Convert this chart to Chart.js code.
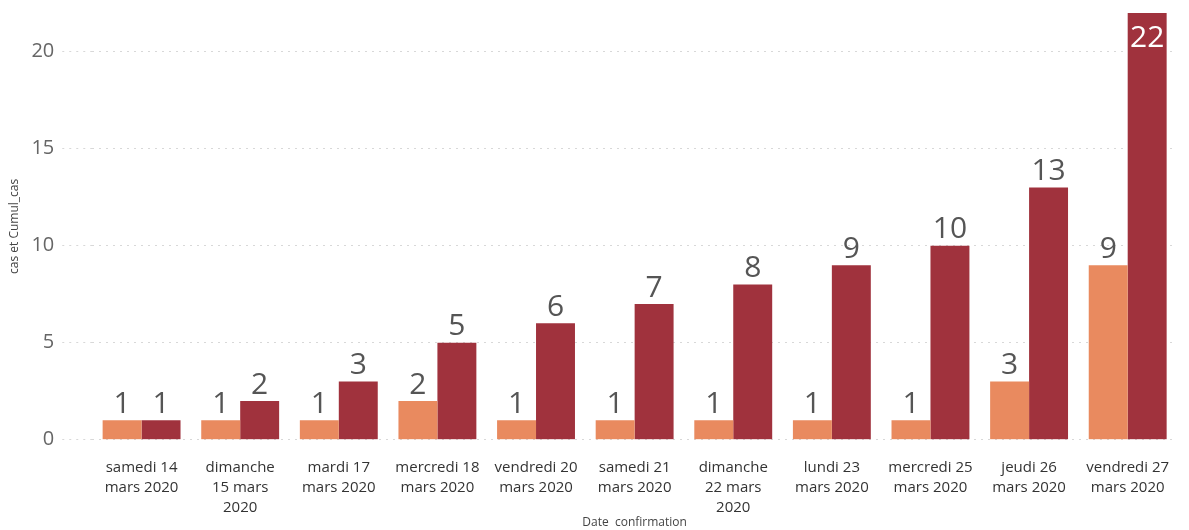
<!DOCTYPE html>
<html>
<head>
<meta charset="utf-8">
<script src="https://cdn.jsdelivr.net/npm/chart.js@4"></script>
<style>
  body { margin: 0; background: #fff; }
  #wrap { width: 1189px; height: 530px; }
</style>
</head>
<body>
<div id="wrap"><canvas id="myChart"></canvas></div>
<script>
var labels = [
    ["samedi 14", "mars 2020"],
    ["dimanche", "15 mars", "2020"],
    ["mardi 17", "mars 2020"],
    ["mercredi 18", "mars 2020"],
    ["vendredi 20", "mars 2020"],
    ["samedi 21", "mars 2020"],
    ["dimanche", "22 mars", "2020"],
    ["lundi 23", "mars 2020"],
    ["mercredi 25", "mars 2020"],
    ["jeudi 26", "mars 2020"],
    ["vendredi 27", "mars 2020"]
];
var cas = [1, 1, 1, 2, 1, 1, 1, 1, 1, 3, 9];
var cumulCas = [1, 2, 3, 5, 6, 7, 8, 9, 10, 13, 22];
var yTicks = [0, 5, 10, 15, 20];

// value labels above each bar (inside if no room)
var valueLabels = {
    id: 'valueLabels',
    afterDatasetsDraw: function (chart) {
        var ctx = chart.ctx;
        ctx.save();
        ctx.font = '30px "Open Sans", sans-serif';
        ctx.textAlign = 'center';
        chart.data.datasets.forEach(function (ds, i) {
            chart.getDatasetMeta(i).data.forEach(function (bar, j) {
                var txt = String(ds.data[j]);
                if (bar.y - 40 < chart.chartArea.top) {
                    ctx.fillStyle = '#ffffff';
                    ctx.textBaseline = 'top';
                    ctx.fillText(txt, bar.x, bar.y + 10);
                } else {
                    ctx.fillStyle = '#555555';
                    ctx.textBaseline = 'bottom';
                    ctx.fillText(txt, bar.x, bar.y - 1);
                }
            });
        });
        ctx.restore();
    }
};

var ctx = document.getElementById('myChart').getContext('2d');

var myChart = new Chart(ctx, {
    type: 'bar',
    data: {
        labels: labels,
        datasets: [{
            label: 'cas',
            data: cas,
            backgroundColor: '#E98A5F',
            categoryPercentage: 0.79,
            barPercentage: 1
        }, {
            label: 'Cumul_cas',
            data: cumulCas,
            backgroundColor: '#A0323D',
            categoryPercentage: 0.79,
            barPercentage: 1
        }]
    },
    options: {
        responsive: true,
        maintainAspectRatio: false,
        animation: false,
        layout: { padding: { top: 0, right: 12, left: 7, bottom: 0 } },
        plugins: {
            legend: { display: false },
            tooltip: { enabled: false }
        },
        scales: {
            x: {
                grid: { display: false },
                border: { display: false },
                ticks: {
                    color: '#333333',
                    font: { family: '"Open Sans", sans-serif', size: 15, lineHeight: 1.33 },
                    maxRotation: 0,
                    autoSkip: false,
                    padding: 10
                },
                title: {
                    display: true,
                    text: 'Date  confirmation',
                    color: '#444444',
                    font: { family: '"Open Sans", sans-serif', size: 12 },
                    padding: { top: -12, bottom: 0 }
                }
            },
            y: {
                min: 0,
                max: 22,
                afterBuildTicks: function (scale) {
                    scale.ticks = yTicks.map(function (v) { return { value: v }; });
                },
                border: { display: false, dash: [2, 5] },
                grid: {
                    color: '#d8d8d8',
                    drawTicks: true,
                    tickLength: 30,
                    tickColor: '#d8d8d8',
                    tickBorderDash: [2, 5]
                },
                ticks: {
                    color: '#666666',
                    font: { family: '"Open Sans", sans-serif', size: 20, lineHeight: 0.5 },
                    padding: 8
                },
                title: {
                    display: true,
                    text: 'cas et Cumul_cas',
                    color: '#444444',
                    font: { family: '"Open Sans", sans-serif', size: 12 },
                    padding: { top: 0, bottom: 2 }
                }
            }
        }
    },
    plugins: [valueLabels]
});
</script>
</body>
</html>
